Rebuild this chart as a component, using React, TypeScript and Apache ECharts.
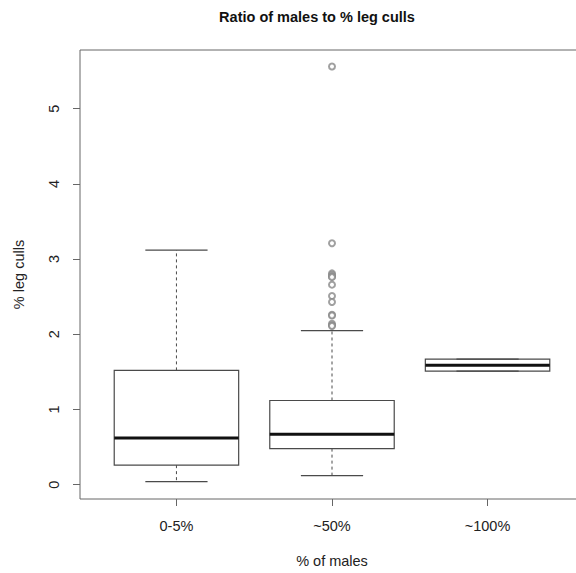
import React, { useEffect, useRef } from "react";
import * as echarts from "echarts";

const categories = ["0-5%", "~50%", "~100%"];
const whiskerLow = [0.04, 0.12, 1.51];
const q1 = [0.26, 0.48, 1.51];
const medians = [0.62, 0.67, 1.59];
const q3 = [1.52, 1.12, 1.67];
const whiskerHigh = [3.12, 2.05, 1.67];
const outliersMid = [5.56, 3.21, 2.81, 2.79, 2.77, 2.76, 2.66, 2.51, 2.43, 2.26, 2.25, 2.14, 2.12, 2.11];
const yTicks = [0, 1, 2, 3, 4, 5];
const xTicks = [1, 2, 3];

const FONT = "Liberation Sans, Arial, sans-serif";
const LINE = "#4a4a4a";

export default function App() {
  const ref = useRef<HTMLDivElement>(null);
  useEffect(() => {
    if (!ref.current) return;
    const chart = echarts.init(ref.current, null, { renderer: "svg" });
    const boxData = categories.map((_, i) => [i + 1, whiskerLow[i], q1[i], medians[i], q3[i], whiskerHigh[i]]);
    chart.setOption({
      animation: false,
      backgroundColor: "#fff",
      textStyle: { fontFamily: FONT },
      graphic: [
        {
          type: "text",
          x: 317,
          y: 17,
          style: {
            text: "Ratio of males to % leg culls",
            fontFamily: FONT,
            fontWeight: "bold",
            fontSize: 14.5,
            fill: "#111",
            textAlign: "center",
            textVerticalAlign: "middle",
          },
        },
      ],
      grid: {
        left: 80,
        top: 50,
        width: 504,
        height: 452,
        show: true,
        borderColor: "#666",
        borderWidth: 1,
        backgroundColor: "transparent",
      },
      xAxis: {
        type: "value",
        min: 0.38,
        max: 3.62,
        name: "% of males",
        nameLocation: "middle",
        nameGap: 54,
        nameTextStyle: { fontFamily: FONT, fontSize: 14.5, color: "#222" },
        axisLine: { show: false, onZero: false },
        splitLine: { show: false },
        axisTick: { show: true, inside: false, length: 7, customValues: xTicks, lineStyle: { color: "#666" } },
        axisLabel: {
          customValues: xTicks,
          formatter: (v: number) => categories[Math.round(v) - 1] ?? "",
          fontFamily: FONT,
          fontSize: 14.5,
          color: "#222",
          margin: 19,
        },
      },
      yAxis: {
        type: "value",
        min: -0.19,
        max: 5.78,
        name: "% leg culls",
        nameLocation: "middle",
        nameGap: 54,
        nameRotate: 90,
        nameTextStyle: { fontFamily: FONT, fontSize: 14.5, color: "#222" },
        axisLine: { show: false, onZero: false },
        splitLine: { show: false },
        axisTick: { show: true, inside: false, length: 7, customValues: yTicks, lineStyle: { color: "#666" } },
        axisLabel: {
          customValues: yTicks,
          rotate: 90,
          fontFamily: FONT,
          fontSize: 14.5,
          color: "#222",
          margin: 19,
        },
      },
      series: [
        {
          type: "custom",
          data: boxData,
          clip: false,
          renderItem: (params: any, api: any) => {
            const x = api.value(0);
            const lo = api.coord([x, api.value(1)]);
            const b1 = api.coord([x, api.value(2)]);
            const md = api.coord([x, api.value(3)]);
            const b3 = api.coord([x, api.value(4)]);
            const hi = api.coord([x, api.value(5)]);
            const w = api.size([0.8, 0])[0];
            const cx = md[0];
            const dashed = { stroke: LINE, lineWidth: 1, lineDash: [3, 3], fill: null };
            const solid = { stroke: LINE, lineWidth: 1.2, fill: null };
            return {
              type: "group",
              children: [
                { type: "line", shape: { x1: cx, y1: b3[1], x2: cx, y2: hi[1] }, style: dashed },
                { type: "line", shape: { x1: cx, y1: b1[1], x2: cx, y2: lo[1] }, style: dashed },
                { type: "line", shape: { x1: cx - w / 4, y1: hi[1], x2: cx + w / 4, y2: hi[1] }, style: solid },
                { type: "line", shape: { x1: cx - w / 4, y1: lo[1], x2: cx + w / 4, y2: lo[1] }, style: solid },
                {
                  type: "rect",
                  shape: { x: cx - w / 2, y: b3[1], width: w, height: b1[1] - b3[1] },
                  style: { stroke: LINE, lineWidth: 1.2, fill: "none" },
                },
                {
                  type: "line",
                  shape: { x1: cx - w / 2, y1: md[1], x2: cx + w / 2, y2: md[1] },
                  style: { stroke: "#111", lineWidth: 3, fill: null },
                },
              ],
            };
          },
        },
        {
          type: "scatter",
          data: outliersMid.map((v) => [2, v]),
          symbol: "emptyCircle",
          symbolSize: 6,
          itemStyle: { color: "#888", borderWidth: 1 },
        },
      ],
    });
    return () => chart.dispose();
  }, []);
  return (
    <div
      ref={ref}
      style={{ position: "fixed", left: 0, top: 0, width: 600, height: 573 }}
    />
  );
}
